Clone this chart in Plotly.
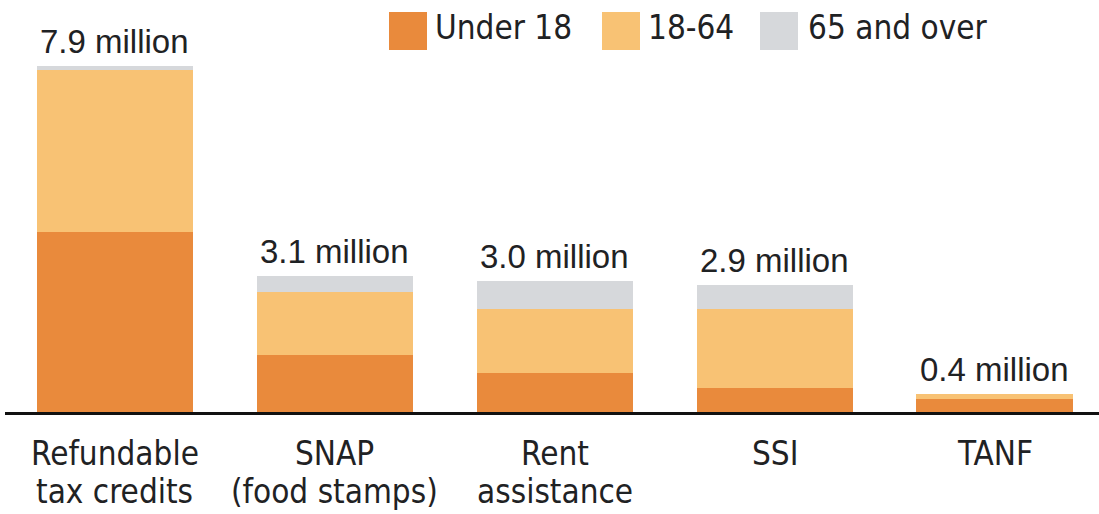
import plotly.graph_objects as go

# Recipients lifted out of poverty, by program and age group (millions)
programs = ["Refundable tax credits", "SNAP (food stamps)", "Rent assistance", "SSI", "TANF"]
label_lines = [["Refundable", "tax credits"], ["SNAP", "(food stamps)"],
               ["Rent", "assistance"], ["SSI"], ["TANF"]]
under_18 = [4.1, 1.3, 0.9, 0.55, 0.3]
age_18_64 = [3.7, 1.45, 1.45, 1.8, 0.1]
age_65_over = [0.1, 0.35, 0.65, 0.55, 0.0]
totals = [7.9, 3.1, 3.0, 2.9, 0.4]
total_labels = ["7.9 million", "3.1 million", "3.0 million", "2.9 million", "0.4 million"]

series_names = ["Under 18", "18-64", "65 and over"]
series_values = [under_18, age_18_64, age_65_over]
colors = ["#E98A3C", "#F8C274", "#D6D8DB"]

COND = "Liberation Sans Narrow, DejaVu Sans Condensed, Arial Narrow, sans-serif"
REG = "Liberation Sans, Arial, Helvetica, sans-serif"
INK = "#1f2224"

W, H = 1099, 514
L, R, T, B = 5, 0, 0, 102
PW, PH = W - L - R, H - T - B

fig = go.Figure()
for name, vals, col in zip(series_names, series_values, colors):
    fig.add_trace(go.Bar(x=programs, y=vals, name=name, marker_color=col,
                         marker_line_width=0, showlegend=False))

annotations = []
# value labels above each stack
for p, tot, lab in zip(programs, totals, total_labels):
    annotations.append(dict(x=p, y=tot, xref="x", yref="y", text=lab, showarrow=False,
                            xanchor="center", yanchor="bottom", yshift=4,
                            font=dict(family=REG, size=33, color=INK)))
# category labels under the axis, one annotation per line
for p, lines in zip(programs, label_lines):
    for i, line in enumerate(lines):
        annotations.append(dict(x=p, y=0, xref="x", yref="y", text=line, showarrow=False,
                                xanchor="center", yanchor="middle", yshift=-41 - 38 * i,
                                font=dict(family=COND, size=33, color=INK)))


def px_x(v):
    return (v - L) / PW


def px_y(v):
    return (T + PH - v) / PH


# legend drawn as swatches + labels across the top
shapes = []
legend_items = [(389, 433), (602, 646), (760, 806)]
for (sx, tx), name, col in zip(legend_items, series_names, colors):
    shapes.append(dict(type="rect", xref="paper", yref="paper",
                       x0=px_x(sx), x1=px_x(sx + 38), y0=px_y(50), y1=px_y(12),
                       fillcolor=col, line_width=0))
    annotations.append(dict(x=px_x(tx), y=px_y(28), xref="paper", yref="paper", text=name,
                            showarrow=False, xanchor="left", yanchor="middle",
                            font=dict(family=COND, size=33, color=INK)))

fig.update_layout(
    width=W, height=H,
    margin=dict(l=L, r=R, t=T, b=B, pad=0),
    barmode="stack", bargap=0.29,
    plot_bgcolor="white", paper_bgcolor="white",
    xaxis=dict(range=[-0.5, 4.475], showticklabels=False, ticks="", showgrid=False,
               zeroline=False, showline=True, linecolor="#111111", linewidth=3),
    yaxis=dict(range=[0, 9.406], visible=False, showgrid=False, zeroline=False),
    annotations=annotations, shapes=shapes,
)

fig.write_html("out.html")
